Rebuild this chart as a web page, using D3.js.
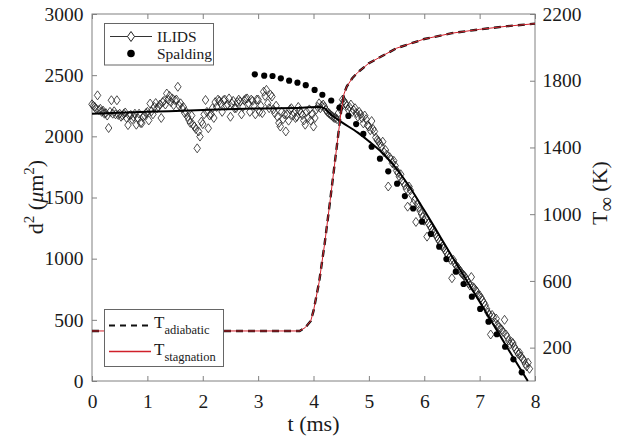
<!DOCTYPE html>
<html>
<head>
<meta charset="utf-8">
<script src="https://cdn.jsdelivr.net/npm/d3@7"></script>
<style>
  body { margin: 0; background: #fff; }
  svg { display: block; }
  text { font-family: "Liberation Serif", "Times New Roman", serif; fill: #1a1a1a; }
</style>
</head>
<body>
<svg id="chart" width="621" height="441"></svg>
<script>
// ILIDS measurements: sample time (ms) and squared droplet diameter (µm²)
const ilidsT = [
  0.000, 0.025, 0.050, 0.075, 0.100, 0.125, 0.150, 0.175, 0.200, 0.225, 0.250, 0.275, 0.300, 0.325, 0.350, 0.375, 0.400, 0.425, 0.450, 0.475,
  0.500, 0.525, 0.550, 0.575, 0.600, 0.625, 0.650, 0.675, 0.700, 0.725, 0.750, 0.775, 0.800, 0.825, 0.850, 0.875, 0.900, 0.925, 0.950, 0.975,
  1.000, 1.025, 1.050, 1.075, 1.100, 1.125, 1.150, 1.175, 1.200, 1.225, 1.250, 1.275, 1.300, 1.325, 1.350, 1.375, 1.400, 1.425, 1.450, 1.475,
  1.500, 1.525, 1.550, 1.575, 1.600, 1.625, 1.650, 1.675, 1.700, 1.725, 1.750, 1.775, 1.800, 1.825, 1.850, 1.875, 1.900, 1.925, 1.950, 1.975,
  2.000, 2.025, 2.050, 2.075, 2.100, 2.125, 2.150, 2.175, 2.200, 2.225, 2.250, 2.275, 2.300, 2.325, 2.350, 2.375, 2.400, 2.425, 2.450, 2.475,
  2.500, 2.525, 2.550, 2.575, 2.600, 2.625, 2.650, 2.675, 2.700, 2.725, 2.750, 2.775, 2.800, 2.825, 2.850, 2.875, 2.900, 2.925, 2.950, 2.975,
  3.000, 3.025, 3.050, 3.075, 3.100, 3.125, 3.150, 3.175, 3.200, 3.225, 3.250, 3.275, 3.300, 3.325, 3.350, 3.375, 3.400, 3.425, 3.450, 3.475,
  3.500, 3.525, 3.550, 3.575, 3.600, 3.625, 3.650, 3.675, 3.700, 3.725, 3.750, 3.775, 3.800, 3.825, 3.850, 3.875, 3.900, 3.925, 3.950, 3.975,
  4.000, 4.025, 4.050, 4.075, 4.100, 4.125, 4.150, 4.175, 4.200, 4.225, 4.250, 4.275, 4.300, 4.325, 4.350, 4.375, 4.400, 4.425, 4.450, 4.475,
  4.500, 4.525, 4.550, 4.575, 4.600, 4.625, 4.650, 4.675, 4.700, 4.725, 4.750, 4.775, 4.800, 4.825, 4.850, 4.875, 4.900, 4.925, 4.950, 4.975,
  5.000, 5.025, 5.050, 5.075, 5.100, 5.125, 5.150, 5.175, 5.200, 5.225, 5.250, 5.275, 5.300, 5.325, 5.350, 5.375, 5.400, 5.425, 5.450, 5.475,
  5.500, 5.525, 5.550, 5.575, 5.600, 5.625, 5.650, 5.675, 5.700, 5.725, 5.750, 5.775, 5.800, 5.825, 5.850, 5.875, 5.900, 5.925, 5.950, 5.975,
  6.000, 6.025, 6.050, 6.075, 6.100, 6.125, 6.150, 6.175, 6.200, 6.225, 6.250, 6.275, 6.300, 6.325, 6.350, 6.375, 6.400, 6.425, 6.450, 6.475,
  6.500, 6.525, 6.550, 6.575, 6.600, 6.625, 6.650, 6.675, 6.700, 6.725, 6.750, 6.775, 6.800, 6.825, 6.850, 6.875, 6.900, 6.925, 6.950, 6.975,
  7.000, 7.025, 7.050, 7.075, 7.100, 7.125, 7.150, 7.175, 7.200, 7.225, 7.250, 7.275, 7.300, 7.325, 7.350, 7.375, 7.400, 7.425, 7.450, 7.475,
  7.500, 7.525, 7.550, 7.575, 7.600, 7.625, 7.650, 7.675, 7.700, 7.725, 7.750, 7.775, 7.800, 7.825, 7.850, 7.875, 7.900
];
const ilidsD2 = [
  2262, 2250, 2240, 2225, 2335, 2215, 2225, 2200, 2210, 2185, 2190, 2170, 2068, 2200, 2295, 2185, 2205, 2180, 2295, 2175,
  2185, 2160, 2170, 2185, 2195, 2150, 2092, 2170, 2175, 2140, 2160, 2185, 2095, 2150, 2185, 2110, 2108, 2160, 2170, 2190,
  2200, 2130, 2268, 2205, 2180, 2240, 2272, 2230, 2240, 2260, 2150, 2280, 2290, 2260, 2350, 2300, 2330, 2280, 2310, 2255,
  2295, 2300, 2405, 2250, 2270, 2230, 2240, 2190, 2200, 2160, 2135, 2110, 2170, 2095, 2080, 2060, 1902, 2040, 1998, 2120,
  2100, 2180, 2297, 2200, 2066, 2170, 2180, 2230, 2150, 2280, 2240, 2300, 2290, 2270, 2200, 2295, 2300, 2250, 2260, 2310,
  2160, 2270, 2290, 2230, 2230, 2280, 2300, 2285, 2180, 2240, 2295, 2305, 2310, 2270, 2200, 2300, 2290, 2250, 2180, 2300,
  2300, 2200, 2250, 2190, 2365, 2330, 2380, 2270, 2230, 2340, 2325, 2220, 2190, 2250, 2160, 2110, 2080, 2200, 2140, 2180,
  2040, 2180, 2128, 2220, 2230, 2170, 2190, 2150, 2160, 2240, 2210, 2190, 2175, 2130, 2095, 2200, 2150, 2220, 2130, 2180,
  2080, 2150, 2220, 2240, 2270, 2230, 2250, 2260, 2240, 2215, 2200, 2190, 2180, 2170, 2160, 2150, 2150, 2140, 2190, 2230,
  2240, 2300, 2290, 2270, 2250, 2220, 2240, 2260, 2200, 2215, 2230, 2190, 2160, 2200, 2180, 2150, 2106, 2170, 2140, 2090,
  2080, 2050, 2125, 2060, 2040, 1990, 1970, 1960, 1940, 1920, 1956, 1870, 1888, 1850, 1590, 1830, 1810, 1780, 1800, 1760,
  1720, 1700, 1670, 1690, 1640, 1620, 1600, 1570, 1425, 1590, 1560, 1520, 1450, 1480, 1300, 1450, 1420, 1390, 1365, 1340,
  1310, 1330, 1180, 1290, 1270, 1250, 1230, 1215, 1200, 1180, 1160, 1140, 1125, 1100, 1090, 1070, 1050, 1030, 1010, 990,
  840, 990, 960, 945, 930, 915, 900, 880, 870, 860, 840, 820, 800, 780, 850, 770, 760, 745, 730, 700,
  700, 680, 660, 640, 620, 590, 560, 540, 380, 540, 520, 480, 510, 460, 440, 430, 420, 400, 500, 380,
  360, 330, 300, 320, 310, 280, 260, 240, 220, 230, 200, 180, 170, 140, 120, 150, 100
];

// Smoothed trend through the ILIDS data
const fitT  = [0, 1, 2, 3, 3.8, 4.1, 4.2, 4.3, 4.4, 4.5, 4.8, 5.0, 5.3, 5.7, 6.0, 6.5, 7.0, 7.5, 7.87];
const fitD2 = [2185, 2200, 2215, 2228, 2234, 2240, 2228, 2185, 2150, 2118, 2030, 1960, 1840, 1610, 1395, 1020, 648, 272, 0];

// Spalding model prediction
const spaldingT = [
  2.94, 3.11, 3.26, 3.41, 3.56, 3.71, 3.86, 4.02, 4.16, 4.32, 4.47,
  4.63, 4.77, 4.90, 5.05, 5.20, 5.35, 5.51, 5.65, 5.80, 5.96,
  6.12, 6.27, 6.40, 6.57, 6.71, 6.86, 7.01, 7.16, 7.31, 7.46, 7.61, 7.76
];
const spaldingD2 = [
  2507, 2496, 2493, 2474, 2455, 2439, 2418, 2379, 2340, 2293, 2235,
  2167, 2100, 2020, 1915, 1817, 1714, 1613, 1512, 1410, 1302,
  1202, 1098, 997, 894, 793, 689, 589, 485, 382, 280, 177, 71
];

// Gas temperature histories (K)
const tempT       = [0, 3.75, 3.85, 3.95, 4.0, 4.1, 4.2, 4.3, 4.4, 4.5, 4.55, 4.6, 4.7, 4.8, 5.0, 5.5, 6.0, 6.5, 7.0, 7.5, 8.0];
const tAdiabatic  = [300, 300, 320, 360, 420, 590, 820, 1080, 1350, 1620, 1720, 1765, 1815, 1850, 1905, 1995, 2050, 2085, 2108, 2127, 2142];
const tStagnation = [300, 300, 320, 360, 420, 590, 820, 1080, 1350, 1620, 1720, 1765, 1815, 1850, 1905, 1995, 2050, 2085, 2108, 2127, 2142];

// Tick values
const timeTicks = [0, 1, 2, 3, 4, 5, 6, 7, 8];
const d2Ticks   = [0, 500, 1000, 1500, 2000, 2500, 3000];
const tempTicks = [200, 600, 1000, 1400, 1800, 2200];

const svg = d3.select("#chart");
const L = 92, R = 535, T = 14, B = 381;
const axisGray = "#808080";

const x  = d3.scaleLinear().domain([0, 8]).range([L, R]);
const yL = d3.scaleLinear().domain([0, 3000]).range([B, T]);
const yR = d3.scaleLinear().domain([0, 2200]).range([B, T]);

// Axes
function styleAxis(g) {
  g.select(".domain").remove();
  g.selectAll(".tick line").attr("stroke", axisGray).attr("stroke-width", 1);
  g.selectAll(".tick text").style("font-size", "19.5px").attr("fill", "#1a1a1a");
}
svg.append("g").attr("transform", `translate(0,${B})`)
  .call(d3.axisBottom(x).tickValues(timeTicks).tickFormat(d3.format("d")).tickSize(-5).tickPadding(13))
  .call(styleAxis);
svg.append("g").attr("transform", `translate(0,${T})`)
  .call(d3.axisTop(x).tickValues(timeTicks).tickFormat("").tickSize(-5))
  .call(styleAxis);
svg.append("g").attr("transform", `translate(${L},0)`)
  .call(d3.axisLeft(yL).tickValues(d2Ticks).tickFormat(d3.format("d")).tickSize(-5).tickPadding(8.5))
  .call(styleAxis);
svg.append("g").attr("transform", `translate(${R},0)`)
  .call(d3.axisRight(yR).tickValues(tempTicks).tickFormat(d3.format("d")).tickSize(-5).tickPadding(7.5))
  .call(styleAxis);

svg.append("rect").attr("x", L).attr("y", T).attr("width", R - L).attr("height", B - T)
  .attr("fill", "none").attr("stroke", axisGray).attr("stroke-width", 1);

const plot = svg.append("g");

// ILIDS diamonds
const diamond = (cx, cy, w, h) => `M${cx},${cy - h / 2}L${cx + w / 2},${cy}L${cx},${cy + h / 2}L${cx - w / 2},${cy}Z`;
plot.append("g").selectAll("path").data(ilidsT.map((t, i) => [t, ilidsD2[i]])).join("path")
  .attr("d", d => diamond(x(d[0]), yL(d[1]), 6.5, 9))
  .attr("fill", "none").attr("stroke", "#222").attr("stroke-width", 0.8);

// Trend line
plot.append("path")
  .datum(fitT.map((t, i) => [t, fitD2[i]]))
  .attr("d", d3.line().x(d => x(d[0])).y(d => yL(d[1])).curve(d3.curveMonotoneX))
  .attr("fill", "none").attr("stroke", "#000").attr("stroke-width", 2);

// Spalding dots
plot.append("g").selectAll("circle").data(spaldingT.map((t, i) => [t, spaldingD2[i]])).join("circle")
  .attr("cx", d => x(d[0])).attr("cy", d => yL(d[1])).attr("r", 3.1).attr("fill", "#000");

// Temperature curves on the right axis
const tLine = d3.line().x(d => x(d[0])).y(d => yR(d[1]));
plot.append("path").datum(tempT.map((t, i) => [t, tAdiabatic[i]]))
  .attr("d", tLine).attr("fill", "none").attr("stroke", "#111")
  .attr("stroke-width", 2.4).attr("stroke-dasharray", "7,5");
plot.append("path").datum(tempT.map((t, i) => [t, tStagnation[i]]))
  .attr("d", tLine).attr("fill", "none").attr("stroke", "#d0202a").attr("stroke-width", 1);

// Axis titles
svg.append("text").attr("x", (L + R) / 2).attr("y", 431).attr("text-anchor", "middle")
  .style("font-size", "22px").text("t (ms)");

const yLab = svg.append("text").attr("transform", "translate(43,197) rotate(-90)")
  .attr("text-anchor", "middle").style("font-size", "22px");
yLab.append("tspan").text("d");
yLab.append("tspan").attr("dy", -9).style("font-size", "15px").text("2");
yLab.append("tspan").attr("dy", 9).text(" (");
yLab.append("tspan").style("font-style", "italic").text("μ");
yLab.append("tspan").text("m");
yLab.append("tspan").attr("dy", -9).style("font-size", "15px").text("2");
yLab.append("tspan").attr("dy", 9).text(")");

const rLab = svg.append("text").attr("transform", "translate(607,193) rotate(-90)")
  .attr("text-anchor", "middle").style("font-size", "22px");
rLab.append("tspan").text("T");
rLab.append("tspan").attr("dy", 6).style("font-size", "20px").text("∞");
rLab.append("tspan").attr("dy", -6).text(" (K)");

// Legend for droplet data
const lg1 = svg.append("g");
lg1.append("rect").attr("x", 104.5).attr("y", 23.5).attr("width", 109).attr("height", 41.5)
  .attr("fill", "#fff").attr("stroke", "#666").attr("stroke-width", 1);
lg1.append("line").attr("x1", 110).attr("x2", 152).attr("y1", 36.5).attr("y2", 36.5)
  .attr("stroke", "#333").attr("stroke-width", 1);
lg1.append("path").attr("d", diamond(131, 36.5, 7, 10)).attr("fill", "#fff").attr("stroke", "#222");
lg1.append("text").attr("x", 157).attr("y", 42).style("font-size", "15.5px").text("ILIDS");
lg1.append("circle").attr("cx", 131).attr("cy", 53.5).attr("r", 3.8).attr("fill", "#000");
lg1.append("text").attr("x", 157).attr("y", 59).style("font-size", "15.5px").text("Spalding");

// Legend for temperature curves
const lg2 = svg.append("g");
lg2.append("rect").attr("x", 104.5).attr("y", 309.5).attr("width", 119).attr("height", 57)
  .attr("fill", "#fff").attr("stroke", "#666").attr("stroke-width", 1);
lg2.append("line").attr("x1", 109).attr("x2", 151).attr("y1", 325.5).attr("y2", 325.5)
  .attr("stroke", "#111").attr("stroke-width", 2.2).attr("stroke-dasharray", "6,5");
const t1 = lg2.append("text").attr("x", 154).attr("y", 328).style("font-size", "17px");
t1.append("tspan").text("T");
t1.append("tspan").attr("dy", 6).style("font-size", "12.5px").text("adiabatic");
lg2.append("line").attr("x1", 109).attr("x2", 151).attr("y1", 351.5).attr("y2", 351.5)
  .attr("stroke", "#d0202a").attr("stroke-width", 1.6);
const t2 = lg2.append("text").attr("x", 154).attr("y", 355).style("font-size", "17px");
t2.append("tspan").text("T");
t2.append("tspan").attr("dy", 6).style("font-size", "12.5px").text("stagnation");
</script>
</body>
</html>
